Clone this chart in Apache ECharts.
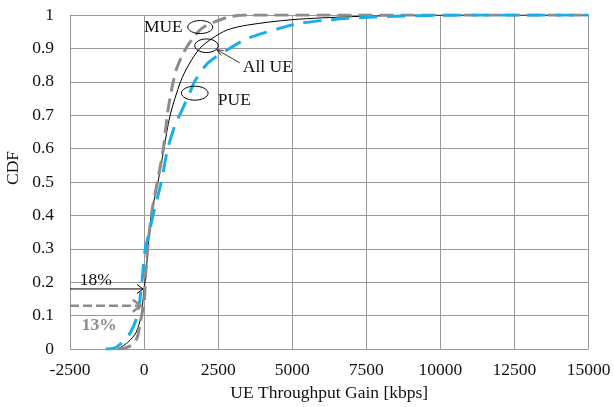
<!DOCTYPE html>
<html>
<head>
<meta charset="utf-8">
<script src="https://cdn.jsdelivr.net/npm/echarts@6/dist/echarts.min.js"></script>
<style>
  html, body { margin: 0; padding: 0; background: #fff; }
  #chart { width: 614px; height: 407px; }
</style>
</head>
<body>
<div id="chart"></div>
<script>
// CDF of per-UE throughput gain (kbps)
const allUeGain = [-900, -550, -270, -100, 0, 45, 135, 240, 470, 670, 880, 1230, 1500, 1880, 2300, 2800, 3500, 5000, 7000, 9000, 10500, 15000];
const allUeCdf  = [0, 0.02, 0.05, 0.10, 0.18, 0.21, 0.30, 0.40, 0.50, 0.60, 0.70, 0.80, 0.85, 0.90, 0.93, 0.955, 0.97, 0.986, 0.995, 0.999, 1, 1];

const mueGain = [-900, -700, -400, -230, -150, -60, 0, 50, 120, 260, 450, 650, 800, 960, 1100, 1350, 1600, 1950, 2400, 2900, 3500, 15000];
const mueCdf  = [0, 0.002, 0.013, 0.035, 0.07, 0.11, 0.13, 0.22, 0.30, 0.41, 0.50, 0.60, 0.71, 0.79, 0.84, 0.89, 0.925, 0.96, 0.98, 0.995, 1, 1];

const pueGain = [-1300, -1000, -830, -490, -230, -75, 40, 150, 300, 580, 800, 1080, 1200, 1590, 1700, 2150, 2885, 3500, 4570, 5250, 6200, 6900, 8000, 9500, 11000, 15000];
const pueCdf  = [0, 0.003, 0.013, 0.045, 0.10, 0.20, 0.30, 0.34, 0.40, 0.50, 0.60, 0.68, 0.70, 0.777, 0.80, 0.856, 0.90, 0.93, 0.96, 0.975, 0.985, 0.99, 0.995, 0.998, 1, 1];

// share of UEs with a negative gain
const allUeLossShare = 0.18;
const mueLossShare = 0.13;

// x-axis range and step
const xMin = -2500, xMax = 15000, xStep = 2500;

// annotation anchors in data coordinates
const ellipseMue   = [1897, 0.964];
const ellipseAllUe = [2106, 0.908];
const ellipsePue   = [1711, 0.766];
const textMue      = [1306, 0.964];
const textAllUe    = [3331, 0.842];
const textPue      = [2487, 0.744];
const leaderFrom   = [3230, 0.857];
const leaderTo     = [2453, 0.896];
const arrowAllUeTipX = -34;
const arrowMueTipX   = -110;

const FONT = 'Liberation Serif';
const toPairs = (xs, ys) => xs.map((x, i) => [x, ys[i]]);

const chart = echarts.init(document.getElementById('chart'), null, { renderer: 'canvas' });

const gridColor = '#979797';
const option = {
  animation: false,
  backgroundColor: '#ffffff',
  textStyle: { fontFamily: FONT },
  grid: { left: 70, right: 25.5, top: 15, bottom: 56 },
  xAxis: {
    type: 'value', min: xMin, max: xMax, interval: xStep,
    name: 'UE Throughput Gain [kbps]', nameLocation: 'middle', nameGap: 29,
    nameTextStyle: { fontFamily: FONT, fontSize: 17.5, color: '#111' },
    axisLine: { show: false }, axisTick: { show: false },
    axisLabel: { fontFamily: FONT, fontSize: 17.5, color: '#111', margin: 12,
                 formatter: v => String(v) },
    splitLine: { show: true, lineStyle: { color: gridColor, width: 1 } }
  },
  yAxis: {
    type: 'value', min: 0, max: 1, interval: 0.1,
    axisLine: { show: false }, axisTick: { show: false },
    axisLabel: { fontFamily: FONT, fontSize: 17.5, color: '#111', margin: 16,
                 formatter: v => String(Math.round(v * 10) / 10) },
    splitLine: { show: true, lineStyle: { color: gridColor, width: 1 } }
  },
  series: [
    {
      name: 'All UE', type: 'line', data: toPairs(allUeGain, allUeCdf),
      showSymbol: false, smooth: 0.3, z: 3,
      lineStyle: { color: '#000', width: 1 }
    },
    {
      name: 'MUE', type: 'line', data: toPairs(mueGain, mueCdf),
      showSymbol: false, smooth: 0.3, z: 4,
      lineStyle: { color: '#8c8c8c', width: 3, type: [14, 7] }
    },
    {
      name: 'PUE', type: 'line', data: toPairs(pueGain, pueCdf),
      showSymbol: false, smooth: 0.3, z: 5,
      lineStyle: { color: '#1aaee8', width: 3, type: [18, 10] }
    }
  ]
};
chart.setOption(option);

// annotations placed from data coordinates
function px(p) { return chart.convertToPixel({ gridIndex: 0 }, p); }
function ellipse(c, rx, ry) {
  const p = px(c);
  return { type: 'ellipse', shape: { cx: p[0], cy: p[1], rx: rx, ry: ry },
           style: { fill: 'none', stroke: '#000', lineWidth: 1 }, z: 10 };
}
function label(p, text, align, color, weight) {
  const q = px(p);
  return { type: 'text', x: q[0], y: q[1], z: 10,
           style: { text: text, font: (weight || 'normal') + ' 17.5px "' + FONT + '"',
                    fill: color || '#111', align: align, verticalAlign: 'middle' } };
}
function chevron(tip, size, color, width) {
  return { type: 'polyline', z: 10,
           shape: { points: [[tip[0] - size, tip[1] - size * 0.75], tip, [tip[0] - size, tip[1] + size * 0.75]] },
           style: { stroke: color, lineWidth: width, fill: 'none' } };
}

const a1 = px([xMin, allUeLossShare]), a1tip = px([arrowAllUeTipX, allUeLossShare]);
const a2 = px([xMin, mueLossShare]), a2tip = px([arrowMueTipX, mueLossShare]);
const lf = px(leaderFrom), lt = px(leaderTo);
const ang = Math.atan2(lt[1] - lf[1], lt[0] - lf[0]);
const hl = 7;

chart.setOption({
  graphic: [
    ellipse(ellipseMue, 12.5, 6.5),
    ellipse(ellipseAllUe, 11.7, 6.8),
    ellipse(ellipsePue, 13.3, 7),
    label(textMue, 'MUE', 'right'),
    label(textAllUe, 'All UE', 'left'),
    label(textPue, 'PUE', 'left'),
    { type: 'line', z: 10, shape: { x1: lf[0], y1: lf[1], x2: lt[0], y2: lt[1] },
      style: { stroke: '#000', lineWidth: 0.8 } },
    { type: 'polyline', z: 10,
      shape: { points: [
        [lt[0] - hl * Math.cos(ang - 0.4), lt[1] - hl * Math.sin(ang - 0.4)], lt,
        [lt[0] - hl * Math.cos(ang + 0.4), lt[1] - hl * Math.sin(ang + 0.4)] ] },
      style: { stroke: '#000', lineWidth: 0.8, fill: 'none' } },
    { type: 'line', z: 10, shape: { x1: a1[0], y1: a1[1], x2: a1tip[0], y2: a1tip[1] },
      style: { stroke: '#000', lineWidth: 1 } },
    chevron(a1tip, 6, '#000', 1),
    { type: 'line', z: 10, shape: { x1: a2[0], y1: a2[1], x2: a2tip[0] - 2, y2: a2tip[1] },
      style: { stroke: '#8c8c8c', lineWidth: 2.5, lineDash: [9, 4] } },
    chevron(a2tip, 8, '#8c8c8c', 2.5),
    label([-2168, allUeLossShare + 0.027], Math.round(allUeLossShare * 100) + '%', 'left'),
    label([-2100, mueLossShare - 0.06], Math.round(mueLossShare * 100) + '%', 'left', '#8c8c8c', 'bold'),
    { type: 'text', z: 10, x: 13, y: 168, rotation: Math.PI / 2,
      style: { text: 'CDF', font: '17.5px "' + FONT + '"', fill: '#111', align: 'center', verticalAlign: 'middle' } }
  ]
});
</script>
</body>
</html>
